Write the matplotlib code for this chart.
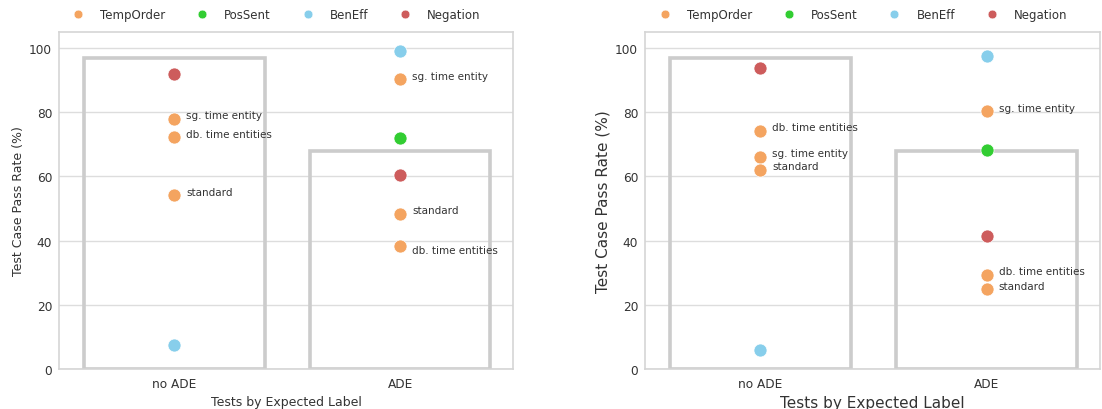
import matplotlib
matplotlib.use("Agg")
import matplotlib.pyplot as plt
from matplotlib.lines import Line2D

categories = ["no ADE", "ADE"]
bar_left = [97, 68]
bar_right = [97, 68]

series = ["TempOrder", "PosSent", "BenEff", "Negation"]
colors = {"TempOrder": "#f4a460", "PosSent": "#32cd32", "BenEff": "#87ceeb", "Negation": "#cd5c5c"}

# left panel points
left_cat = ["no ADE", "no ADE", "no ADE", "no ADE", "no ADE", "ADE", "ADE", "ADE", "ADE", "ADE", "ADE"]
left_ser = ["Negation", "TempOrder", "TempOrder", "TempOrder", "BenEff", "BenEff", "TempOrder", "PosSent", "Negation", "TempOrder", "TempOrder"]
left_val = [92.0, 78.0, 72.2, 54.1, 7.5, 99.2, 90.3, 72.1, 60.3, 48.4, 38.2]
left_txt = ["", "sg. time entity", "db. time entities", "standard", "", "", "sg. time entity", "", "", "standard", "db. time entities"]

# right panel points
right_cat = ["no ADE", "no ADE", "no ADE", "no ADE", "no ADE", "ADE", "ADE", "ADE", "ADE", "ADE", "ADE"]
right_ser = ["Negation", "TempOrder", "TempOrder", "TempOrder", "BenEff", "BenEff", "TempOrder", "PosSent", "Negation", "TempOrder", "TempOrder"]
right_val = [93.9, 74.3, 66.2, 62.1, 5.9, 97.5, 80.4, 68.1, 41.3, 29.4, 24.9]
right_txt = ["", "db. time entities", "sg. time entity", "standard", "", "", "sg. time entity", "", "", "db. time entities", "standard"]

yticks = [0, 20, 40, 60, 80, 100]

plt.rcParams['font.family'] = ['DejaVu Sans']
fig = plt.figure(figsize=(11.02, 4.10), dpi=100)
ax1 = fig.add_axes([0.0535, 0.0976, 0.412, 0.822])
ax2 = fig.add_axes([0.5853, 0.0976, 0.4130, 0.822])

textc = "#333333"

def draw(ax, bars, cats, sers, vals, txts, labfs, low_override=None):
    ax.set_facecolor("white")
    ax.set_axisbelow(True)
    ax.yaxis.grid(True, color="#dddddd", linewidth=1)
    ax.xaxis.grid(False)
    for s in ax.spines.values():
        s.set_color("#d5d5d5")
        s.set_linewidth(1.2)
    xs = list(range(len(categories)))
    ax.bar(xs, bars, width=0.8, facecolor="none", edgecolor="#cccccc", linewidth=2.6, zorder=2)
    for c, s, v, t in zip(cats, sers, vals, txts):
        x = categories.index(c)
        ax.scatter([x], [v], s=88, color=colors[s], edgecolor="white", linewidth=0.5, zorder=3)
        if t:
            dy = 1.0
            if low_override and (c, t) in low_override:
                dy = -1.0
            ax.text(x + 0.053, v + dy, t, fontsize=7.5, color=textc, va="center", ha="left", zorder=4)
    ax.set_xlim(-0.51, 1.5)
    ax.set_ylim(0, 105)
    ax.set_xticks(xs)
    ax.set_xticklabels(categories)
    ax.set_yticks(yticks)
    ax.tick_params(axis="both", length=0, labelsize=8.7, colors=textc)
    ax.tick_params(axis="x", pad=6)
    ax.tick_params(axis="y", pad=5)
    ax.set_xlabel("Tests by Expected Label", fontsize=labfs, color=textc, labelpad=3.5)
    ax.set_ylabel("Test Case Pass Rate (%)", fontsize=labfs, color=textc, labelpad=3)
    handles = [Line2D([0], [0], marker="o", linestyle="none", markersize=6.3,
                      markerfacecolor=colors[s], markeredgecolor="white", markeredgewidth=0.4, label=s) for s in series]
    ax.legend(handles=handles, loc="center", bbox_to_anchor=(0.479, 1.051), ncol=4, frameon=False,
              fontsize=8.5, handlelength=1, handletextpad=1.36, columnspacing=2.63, labelcolor=textc,
              borderaxespad=0.0, borderpad=0.0)

draw(ax1, bar_left, left_cat, left_ser, left_val, left_txt, 9, low_override={("ADE", "db. time entities")})
draw(ax2, bar_right, right_cat, right_ser, right_val, right_txt, 11)

fig.savefig("out.png", dpi=100)
